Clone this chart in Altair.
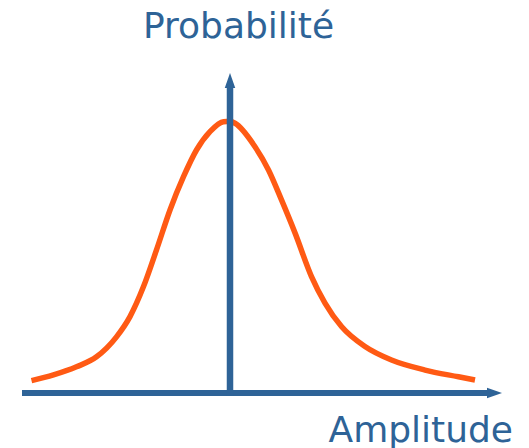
import altair as alt
import pandas as pd

# Curve (amplitude vs probability)
amp = [-3.97, -3.53, -3.07, -2.67, -2.27, -2.0, -1.73, -1.47, -1.2, -0.93, -0.67, -0.4, -0.13, 0.0,
       0.1, 0.5, 0.77, 1.03, 1.3, 1.63, 1.9, 2.23, 2.7, 3.23, 3.9, 4.57, 4.9]
prob = [0.046, 0.067, 0.097, 0.134, 0.208, 0.283, 0.394, 0.530, 0.678, 0.801, 0.900, 0.968, 1.005, 1.006,
        0.999, 0.912, 0.826, 0.715, 0.593, 0.431, 0.333, 0.246, 0.172, 0.122, 0.085, 0.060, 0.048]

# Axis extents
h_axis = {"x0": [-4.16], "x1": [5.14], "y0": [0.0]}
v_axis = {"x0": [0.0], "y0": [-0.01], "y1": [1.13]}
h_arrow = {"x": [5.29], "y": [0.0]}
v_arrow = {"x": [0.0], "y": [1.157]}

labels = ["Probabilité", "Amplitude"]
label_x = [0.17, 5.66]
label_y = [1.315, -0.18]

BLUE = "#2E6397"
ORANGE = "#FF5A14"

W, H = 513, 440
xs = alt.Scale(domain=[-4.44, -4.44 + W / 50], nice=False, zero=False)
ys = alt.Scale(domain=[1.4259 - H / 270, 1.4259], nice=False, zero=False)

curve = alt.Chart(pd.DataFrame({"a": amp, "p": prob})).mark_line(
    color=ORANGE, strokeWidth=5.5, interpolate="monotone"
).encode(x=alt.X("a:Q", scale=xs, axis=None), y=alt.Y("p:Q", scale=ys, axis=None))

hrule = alt.Chart(pd.DataFrame(h_axis)).mark_rule(color=BLUE, strokeWidth=6).encode(
    x=alt.X("x0:Q", scale=xs, axis=None), x2="x1:Q", y=alt.Y("y0:Q", scale=ys, axis=None)
)
vrule = alt.Chart(pd.DataFrame(v_axis)).mark_rule(color=BLUE, strokeWidth=6.5).encode(
    x=alt.X("x0:Q", scale=xs, axis=None), y=alt.Y("y0:Q", scale=ys, axis=None), y2="y1:Q"
)
harrow = alt.Chart(pd.DataFrame(h_arrow)).mark_point(
    shape="M-1,-0.7L1,0L-1,0.7Z", size=225, filled=True, color=BLUE, opacity=1, strokeWidth=0
).encode(x=alt.X("x:Q", scale=xs, axis=None), y=alt.Y("y:Q", scale=ys, axis=None))
varrow = alt.Chart(pd.DataFrame(v_arrow)).mark_point(
    shape="M-0.7,1L0,-1L0.7,1Z", size=225, filled=True, color=BLUE, opacity=1, strokeWidth=0
).encode(x=alt.X("x:Q", scale=xs, axis=None), y=alt.Y("y:Q", scale=ys, axis=None))

ldf = pd.DataFrame({"t": labels, "x": label_x, "y": label_y})
text1 = alt.Chart(ldf.iloc[[0]]).mark_text(
    font="DejaVu Sans", fontSize=36, color=BLUE, align="center", baseline="alphabetic"
).encode(x=alt.X("x:Q", scale=xs, axis=None), y=alt.Y("y:Q", scale=ys, axis=None), text="t:N")
text2 = alt.Chart(ldf.iloc[[1]]).mark_text(
    font="DejaVu Sans", fontSize=36, color=BLUE, align="right", baseline="alphabetic"
).encode(x=alt.X("x:Q", scale=xs, axis=None), y=alt.Y("y:Q", scale=ys, axis=None), text="t:N")

chart = alt.layer(curve, hrule, vrule, harrow, varrow, text1, text2).properties(
    width=W, height=H, padding=0, autosize=alt.AutoSizeParams(type="none")
).configure_view(stroke=None)

chart.save("out.html", embed_options={"renderer": "svg", "actions": False})
